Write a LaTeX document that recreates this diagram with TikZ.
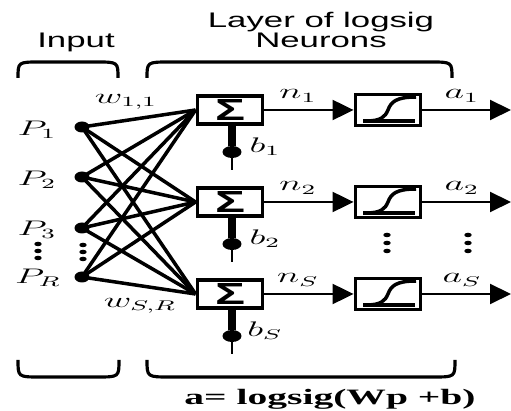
\documentclass[tikz,border=0pt]{standalone}
\usepackage{graphicx}
\usepackage{fontspec}
\setmainfont{Liberation Serif}
\newfontfamily\headfont{Liberation Sans}
\usetikzlibrary{arrows.meta,shapes.geometric}

\tikzset{
  head/.style={inner sep=0, xscale=1.65, font=\headfont\fontsize{12}{11}\selectfont, align=center},
  lbl/.style={inner sep=0, xscale=1.8, font=\fontsize{11.5}{13}\selectfont},
  brace/.style={line width=1.8pt},
  sumbox/.style={draw, line width=2.2pt, minimum width=1.3cm, minimum height=0.56cm, inner sep=0},
  actbox/.style={draw, line width=2.2pt, minimum width=1.3cm, minimum height=0.62cm, inner sep=0},
  indot/.style={ellipse, fill, inner sep=0, minimum width=0.3cm, minimum height=0.22cm},
  bdot/.style={ellipse, fill, inner sep=0, minimum width=0.38cm, minimum height=0.24cm},
  vdot/.style={ellipse, fill, inner sep=0, minimum width=0.15cm, minimum height=0.09cm},
  wire/.style={line width=2pt},
  sig/.style={line width=1.2pt, -{Triangle[length=0.42cm,width=0.4cm]}},
  stem/.style={line width=4pt},
  tail/.style={line width=1.2pt},
  curve/.style={line width=2pt}
}

\begin{document}
\begin{tikzpicture}[x=0.02cm,y=-0.02cm]
  \useasboundingbox (0,0) rectangle (511,411);
  \node[head] (input) at (76,42) {Input};
  \node[head] (layer) at (321,30) {Layer of logsig\\Neurons};
  \draw[brace] (18,78) .. controls (18,62) .. (40,62) -- (96,62) .. controls (118,62) .. (118,78);
  \draw[brace] (147,78) .. controls (147,62) .. (170,62) -- (430,62) .. controls (452,62) .. (452,78);
  \draw[brace] (18,360) .. controls (18,377) .. (40,377) -- (97,377) .. controls (119,377) .. (119,360);
  \draw[brace] (147,360) .. controls (147,377) .. (170,377) -- (433,377) .. controls (455,377) .. (455,360);

  \node[indot] (p1) at (82,127) {};
  \node[indot] (p2) at (82,177) {};
  \node[indot] (p3) at (82,228) {};
  \node[indot] (pR) at (82,277) {};
  \node[lbl] (lp1) at (37,130) {$P_1$};
  \node[lbl] (lp2) at (37,180) {$P_2$};
  \node[lbl] (lp3) at (37,230) {$P_3$};
  \node[lbl] (lpR) at (38,278) {$P_R$};
  \foreach \y in {244,251,258} {
    \node[vdot] (dl\y) at (38,\y) {};
    \node[vdot] (di\y) at (83,\y+1) {};
  }
  \foreach \y in {235,243,251} {
    \node[vdot] (dn\y) at (387,\y) {};
    \node[vdot] (da\y) at (468,\y) {};
  }

  \foreach \k/\y/\s in {1/110/1, 2/202/2, 3/294/S} {
    \node[sumbox] (sum\k) at (230,\y) {\resizebox{0.6cm}{0.42cm}{\headfont\bfseries Σ}};
    \node[actbox] (act\k) at (388,\y) {};
    \coordinate (out\k) at (511,\y);
    \node[bdot] (bd\k) at (232,\y+42) {};
    \coordinate (bt\k) at (232,\y+60);
    \node[lbl] (n\k) at (298,\y-14) {$n_{\s}$};
    \node[lbl] (a\k) at (462,\y-14) {$a_{\s}$};
    \node[lbl] (b\k) at (265,\y+37) {$b_{\s}$};
    \draw[sig] (sum\k) -- (act\k);
    \draw[sig] (act\k) -- (out\k);
    \draw[stem] (bd\k) -- (bd\k |- sum\k.south);
    \draw[tail] (bd\k) -- (bt\k);
    \draw[curve] ([shift={(-25,11)}]act\k.center) -- ([shift={(27,11)}]act\k.center);
    \draw[curve] ([shift={(-22,11)}]act\k.center) .. controls ([shift={(-7,11)}]act\k.center) and ([shift={(-3,7)}]act\k.center) .. ([shift={(0,0)}]act\k.center)
      .. controls ([shift={(3,-8)}]act\k.center) and ([shift={(8,-13)}]act\k.center) .. ([shift={(28,-13)}]act\k.center);
  }
  \foreach \i in {p1,p2,p3,pR}
    \foreach \k in {1,2,3}
      \draw[wire] (\i.center) -- (sum\k.west);
  \node[lbl] (w11) at (126,102) {$w_{1,1}$};
  \node[lbl] (wSR) at (140,306) {$w_{S,R}$};
  \node[inner sep=0, xscale=1.8, font=\bfseries\fontsize{12.5}{14}\selectfont] (formula) at (330,399) {a= logsig(Wp +b)};
\end{tikzpicture}
\end{document}
